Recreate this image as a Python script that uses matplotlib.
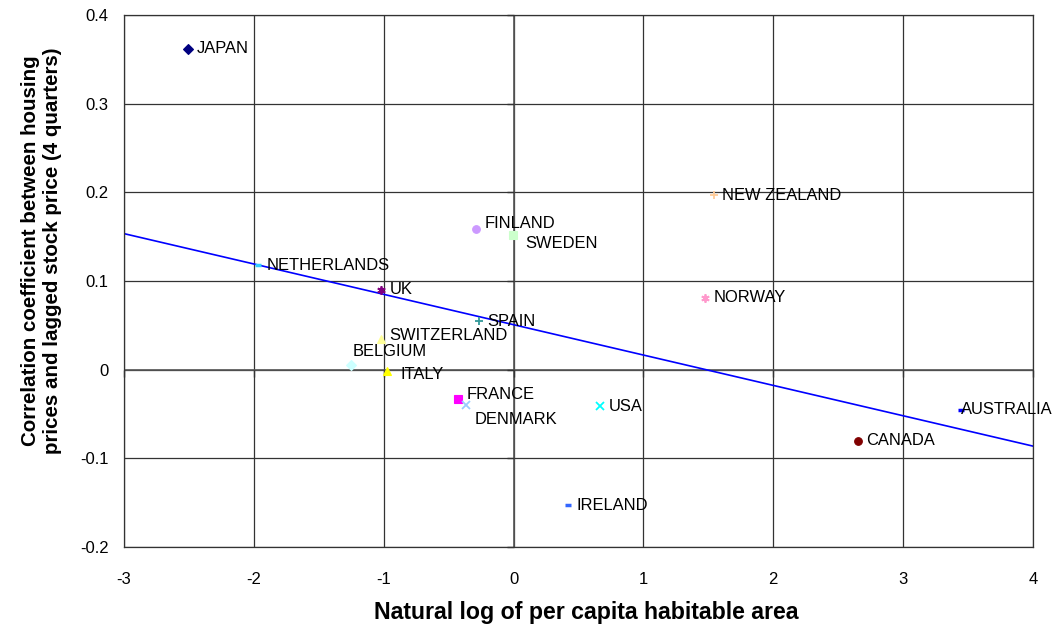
import matplotlib.pyplot as plt
import matplotlib.markers as mmarkers
import numpy as np

plt.rcParams['font.family'] = ['Liberation Sans', 'DejaVu Sans']

countries = ['JAPAN', 'NETHERLANDS', 'UK', 'SWITZERLAND', 'BELGIUM', 'ITALY',
             'FINLAND', 'SWEDEN', 'SPAIN', 'FRANCE', 'DENMARK', 'USA',
             'NEW ZEALAND', 'NORWAY', 'AUSTRALIA', 'CANADA', 'IRELAND']
log_area = [-2.507, -1.968, -1.021, -1.021, -1.252, -0.975,
            -0.289, -0.005, -0.266, -0.428, -0.367, 0.665,
            1.543, 1.474, 3.443, 2.650, 0.419]
corr = [0.362, 0.118, 0.090, 0.035, 0.005, -0.001,
        0.159, 0.152, 0.055, -0.033, -0.040, -0.041,
        0.197, 0.081, -0.045, -0.080, -0.153]

markers = ['D', '_', (6, 2, 0), '^', 'D', '^',
           'o', 's', '+', 's', 'x', 'x',
           '+', (6, 2, 0), '_', 'o', '_']
colors = ['#000080', '#33CCFF', '#800080', '#FFFF99', '#CCFFFF', '#FFFF00',
          '#CC99FF', '#CCFFCC', '#339999', '#FF00FF', '#99CCFF', '#00FFFF',
          '#FFCC99', '#FF99CC', '#0000FF', '#800000', '#3366FF']
# label offsets in points (dx, dy)
offsets = [(6, 0), (6, 0), (6, 0), (6, 2), (1, 10), (10, -3),
           (6, 4), (9, -6), (6, 0), (6, 3), (6, -10), (6, 0),
           (6, 0), (6, 0), (0, 0), (6, 0), (6, 0)]

fig = plt.figure(figsize=(10.6, 6.31), dpi=100)
ax = fig.add_axes([0.117, 0.133, 0.8575, 0.843])

ax.set_xlim(-3, 4)
ax.set_ylim(-0.2, 0.4)
xt = np.arange(-3, 5, 1)
yt = np.arange(-0.2, 0.41, 0.1)
ax.set_xticks(xt)
ax.set_yticks(yt)
ax.set_xticklabels([str(v) for v in range(-3, 5)])
ax.set_yticklabels(['-0.2', '-0.1', '0', '0.1', '0.2', '0.3', '0.4'])
ax.tick_params(axis='x', length=0, labelsize=12, pad=18)
ax.tick_params(axis='y', length=0, labelsize=12, pad=11)
ax.grid(True, color='#333333', linewidth=0.9)
ax.set_axisbelow(True)
for s in ax.spines.values():
    s.set_color('#333333')
    s.set_linewidth(0.9)

# zero axes with tick marks
ax.axhline(0, color='#555555', linewidth=1.2, zorder=1)
ax.axvline(0, color='#555555', linewidth=1.2, zorder=1)
ax.plot(np.zeros_like(yt), yt, linestyle='none', marker=mmarkers.TICKLEFT,
        markersize=5, color='#333333', clip_on=False)
ax.plot(xt, np.zeros_like(xt), linestyle='none', marker=mmarkers.TICKDOWN,
        markersize=5, color='#333333', clip_on=False)

# linear trend line
k, b = np.polyfit(log_area, corr, 1)
xs = np.array([-3, 4])
ax.plot(xs, k * xs + b, color='#0000FF', linewidth=1.2, zorder=2)

for name, x, y, m, c, off in zip(countries, log_area, corr, markers, colors, offsets):
    if m == '_':
        ax.plot(x, y, linestyle='none', marker=m, color=c, markersize=5,
                markeredgewidth=2.5, zorder=3)
    elif m in ['+', 'x'] or isinstance(m, tuple):
        ax.plot(x, y, linestyle='none', marker=m, color=c, markersize=6,
                markeredgewidth=1.3, zorder=3)
    else:
        ax.plot(x, y, linestyle='none', marker=m, color=c, markersize=5.5,
                markeredgewidth=0.8, zorder=3)
    ax.annotate(name, (x, y), xytext=off, textcoords='offset points',
                ha='left', va='center', fontsize=11.9, zorder=4)

ax.set_xlabel('Natural log of per capita habitable area', fontsize=16.7,
              fontweight='bold')
ax.xaxis.set_label_coords(0.508, -0.102)
ax.set_ylabel('Correlation coefficient between housing\nprices and lagged stock price (4 quarters)',
              fontsize=14.8, fontweight='bold')
ax.yaxis.set_label_coords(-0.068, 0.558)

fig.savefig('out.png', dpi=100)
